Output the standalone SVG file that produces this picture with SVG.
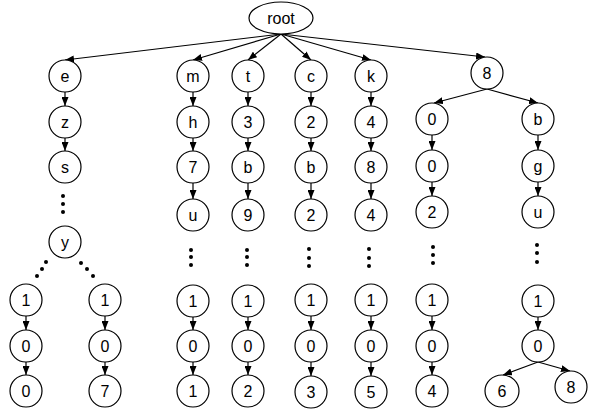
<svg xmlns="http://www.w3.org/2000/svg" width="596" height="413" viewBox="0 0 596 413">
<style>
.n ellipse,.n circle{fill:#fff;stroke:#000;stroke-width:1.2}
.n text{font-family:"Liberation Sans","DejaVu Sans",sans-serif;font-size:16px;text-anchor:middle;fill:#000}
#edges line{stroke:#000;stroke-width:1.2;marker-end:url(#ah)}
.dots circle{fill:#000}
</style>
<defs>
<marker id="ah" markerUnits="userSpaceOnUse" markerWidth="9" markerHeight="7" refX="9" refY="3.5" orient="auto">
<path d="M0,0 L9,3.5 L0,7 z" fill="#000"/>
</marker>
</defs>
<rect width="596" height="413" fill="#fff"/>
<g id="edges">
<line x1="281" y1="34" x2="65" y2="60"/>
<line x1="281" y1="34" x2="193" y2="60"/>
<line x1="281" y1="34" x2="248" y2="60"/>
<line x1="281" y1="34" x2="311" y2="60"/>
<line x1="281" y1="34" x2="371" y2="60"/>
<line x1="281" y1="34" x2="485" y2="57"/>
<line x1="65" y1="92" x2="65" y2="106"/>
<line x1="65" y1="138" x2="65" y2="151"/>
<line x1="26" y1="316" x2="26" y2="330"/>
<line x1="26" y1="362" x2="26" y2="375"/>
<line x1="105" y1="316" x2="105" y2="330"/>
<line x1="105" y1="362" x2="105" y2="375"/>
<line x1="193" y1="92" x2="193" y2="106"/>
<line x1="193" y1="138" x2="193" y2="151"/>
<line x1="193" y1="183" x2="193" y2="199"/>
<line x1="193" y1="317" x2="193" y2="330"/>
<line x1="193" y1="362" x2="193" y2="375"/>
<line x1="248" y1="92" x2="248" y2="106"/>
<line x1="248" y1="138" x2="248" y2="151"/>
<line x1="248" y1="183" x2="248" y2="199"/>
<line x1="248" y1="317" x2="248" y2="330"/>
<line x1="248" y1="362" x2="248" y2="375"/>
<line x1="311" y1="92" x2="311" y2="106"/>
<line x1="311" y1="138" x2="311" y2="151"/>
<line x1="311" y1="183" x2="311" y2="199"/>
<line x1="311" y1="316" x2="311" y2="330"/>
<line x1="311" y1="362" x2="311" y2="376"/>
<line x1="371" y1="92" x2="371" y2="106"/>
<line x1="371" y1="138" x2="371" y2="151"/>
<line x1="371" y1="183" x2="371" y2="199"/>
<line x1="371" y1="316" x2="371" y2="330"/>
<line x1="371" y1="362" x2="371" y2="376"/>
<line x1="487" y1="89" x2="434" y2="103"/>
<line x1="487" y1="89" x2="538" y2="103"/>
<line x1="432" y1="135" x2="432" y2="150"/>
<line x1="432" y1="182" x2="432" y2="196"/>
<line x1="432" y1="316" x2="432" y2="330"/>
<line x1="432" y1="362" x2="432" y2="375"/>
<line x1="538" y1="135" x2="538" y2="150"/>
<line x1="538" y1="182" x2="538" y2="196"/>
<line x1="538" y1="317" x2="538" y2="330"/>
<line x1="538" y1="362" x2="503" y2="375"/>
<line x1="538" y1="362" x2="570" y2="371"/>
</g>
<g class="dots">
<circle cx="63" cy="196" r="2"/><circle cx="63" cy="204" r="2"/><circle cx="63" cy="212" r="2"/>
<circle cx="46" cy="262" r="2"/><circle cx="42" cy="269" r="2"/><circle cx="37" cy="276" r="2"/>
<circle cx="81" cy="263" r="2"/><circle cx="87" cy="269" r="2"/><circle cx="93" cy="276" r="2"/>
<circle cx="191" cy="250" r="2"/><circle cx="191" cy="257" r="2"/><circle cx="191" cy="265" r="2"/>
<circle cx="247" cy="250" r="2"/><circle cx="247" cy="257" r="2"/><circle cx="247" cy="265" r="2"/>
<circle cx="309" cy="249" r="2"/><circle cx="309" cy="258" r="2"/><circle cx="309" cy="266" r="2"/>
<circle cx="369" cy="249" r="2"/><circle cx="369" cy="258" r="2"/><circle cx="369" cy="266" r="2"/>
<circle cx="433" cy="247" r="2"/><circle cx="433" cy="255" r="2"/><circle cx="433" cy="263" r="2"/>
<circle cx="537" cy="245" r="2"/><circle cx="537" cy="253" r="2"/><circle cx="537" cy="262" r="2"/>
</g>
<g id="root" class="n"><ellipse cx="281" cy="18" rx="32" ry="16"/><text x="281" y="24">root</text></g>
<g id="e" class="n"><circle cx="65" cy="76" r="16"/><text x="65" y="82">e</text></g>
<g id="e_z" class="n"><circle cx="65" cy="122" r="16"/><text x="65" y="128">z</text></g>
<g id="e_s" class="n"><circle cx="65" cy="167" r="16"/><text x="65" y="173">s</text></g>
<g id="e_y" class="n"><circle cx="65" cy="242" r="16"/><text x="65" y="248">y</text></g>
<g id="a1" class="n"><circle cx="26" cy="300" r="16"/><text x="26" y="306">1</text></g>
<g id="a0" class="n"><circle cx="26" cy="346" r="16"/><text x="26" y="352">0</text></g>
<g id="a00" class="n"><circle cx="26" cy="391" r="16"/><text x="26" y="397">0</text></g>
<g id="b1" class="n"><circle cx="105" cy="300" r="16"/><text x="105" y="306">1</text></g>
<g id="b0" class="n"><circle cx="105" cy="346" r="16"/><text x="105" y="352">0</text></g>
<g id="b7" class="n"><circle cx="105" cy="391" r="16"/><text x="105" y="397">7</text></g>
<g id="m" class="n"><circle cx="193" cy="76" r="16"/><text x="193" y="82">m</text></g>
<g id="m_h" class="n"><circle cx="193" cy="122" r="16"/><text x="193" y="128">h</text></g>
<g id="m_7" class="n"><circle cx="193" cy="167" r="16"/><text x="193" y="173">7</text></g>
<g id="m_u" class="n"><circle cx="193" cy="215" r="16"/><text x="193" y="221">u</text></g>
<g id="m_1" class="n"><circle cx="193" cy="301" r="16"/><text x="193" y="307">1</text></g>
<g id="m_0" class="n"><circle cx="193" cy="346" r="16"/><text x="193" y="352">0</text></g>
<g id="m_1b" class="n"><circle cx="193" cy="391" r="16"/><text x="193" y="397">1</text></g>
<g id="t" class="n"><circle cx="248" cy="76" r="16"/><text x="248" y="82">t</text></g>
<g id="t_3" class="n"><circle cx="248" cy="122" r="16"/><text x="248" y="128">3</text></g>
<g id="t_b" class="n"><circle cx="248" cy="167" r="16"/><text x="248" y="173">b</text></g>
<g id="t_9" class="n"><circle cx="248" cy="215" r="16"/><text x="248" y="221">9</text></g>
<g id="t_1" class="n"><circle cx="248" cy="301" r="16"/><text x="248" y="307">1</text></g>
<g id="t_0" class="n"><circle cx="248" cy="346" r="16"/><text x="248" y="352">0</text></g>
<g id="t_2" class="n"><circle cx="248" cy="391" r="16"/><text x="248" y="397">2</text></g>
<g id="c" class="n"><circle cx="311" cy="76" r="16"/><text x="311" y="82">c</text></g>
<g id="c_2" class="n"><circle cx="311" cy="122" r="16"/><text x="311" y="128">2</text></g>
<g id="c_b" class="n"><circle cx="311" cy="167" r="16"/><text x="311" y="173">b</text></g>
<g id="c_2b" class="n"><circle cx="311" cy="215" r="16"/><text x="311" y="221">2</text></g>
<g id="c_1" class="n"><circle cx="311" cy="300" r="16"/><text x="311" y="306">1</text></g>
<g id="c_0" class="n"><circle cx="311" cy="346" r="16"/><text x="311" y="352">0</text></g>
<g id="c_3" class="n"><circle cx="311" cy="392" r="16"/><text x="311" y="398">3</text></g>
<g id="k" class="n"><circle cx="371" cy="76" r="16"/><text x="371" y="82">k</text></g>
<g id="k_4" class="n"><circle cx="371" cy="122" r="16"/><text x="371" y="128">4</text></g>
<g id="k_8" class="n"><circle cx="371" cy="167" r="16"/><text x="371" y="173">8</text></g>
<g id="k_4b" class="n"><circle cx="371" cy="215" r="16"/><text x="371" y="221">4</text></g>
<g id="k_1" class="n"><circle cx="371" cy="300" r="16"/><text x="371" y="306">1</text></g>
<g id="k_0" class="n"><circle cx="371" cy="346" r="16"/><text x="371" y="352">0</text></g>
<g id="k_5" class="n"><circle cx="371" cy="392" r="16"/><text x="371" y="398">5</text></g>
<g id="n8" class="n"><circle cx="487" cy="73" r="16"/><text x="487" y="79">8</text></g>
<g id="p_0" class="n"><circle cx="432" cy="119" r="16"/><text x="432" y="125">0</text></g>
<g id="p_0b" class="n"><circle cx="432" cy="166" r="16"/><text x="432" y="172">0</text></g>
<g id="p_2" class="n"><circle cx="432" cy="212" r="16"/><text x="432" y="218">2</text></g>
<g id="p_1" class="n"><circle cx="432" cy="300" r="16"/><text x="432" y="306">1</text></g>
<g id="p_0c" class="n"><circle cx="432" cy="346" r="16"/><text x="432" y="352">0</text></g>
<g id="p_4" class="n"><circle cx="432" cy="391" r="16"/><text x="432" y="397">4</text></g>
<g id="q_b" class="n"><circle cx="538" cy="119" r="16"/><text x="538" y="125">b</text></g>
<g id="q_g" class="n"><circle cx="538" cy="166" r="16"/><text x="538" y="172">g</text></g>
<g id="q_u" class="n"><circle cx="538" cy="212" r="16"/><text x="538" y="218">u</text></g>
<g id="q_1" class="n"><circle cx="538" cy="301" r="16"/><text x="538" y="307">1</text></g>
<g id="q_0" class="n"><circle cx="538" cy="346" r="16"/><text x="538" y="352">0</text></g>
<g id="q_6" class="n"><ellipse cx="502" cy="391" rx="17" ry="16"/><text x="502" y="397">6</text></g>
<g id="q_8" class="n"><ellipse cx="571" cy="387" rx="16" ry="16"/><text x="571" y="393">8</text></g>
</svg>
